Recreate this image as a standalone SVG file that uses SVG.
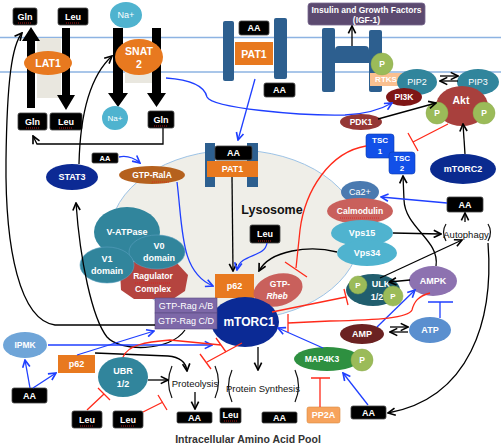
<svg xmlns="http://www.w3.org/2000/svg" width="501" height="447" viewBox="0 0 501 447">
<defs>
<style>
text{font-family:"Liberation Sans",Arial,sans-serif;text-anchor:middle;dominant-baseline:central}
.w{fill:#fff;font-weight:bold;font-size:9px}
.w10{fill:#fff;font-weight:bold;font-size:10.5px}
.k{fill:#111;font-size:9.5px}
.box{fill:#000;stroke:#444;stroke-width:0.8}
.mem{stroke:#8db3e2;stroke-width:1.6;fill:none}
.bar{fill:#2d5f8f}
.or{fill:#e8791f}
.tl{fill:#31859c}
.lb{fill:#4fb3cf}
.pg{fill:#9bbb59;stroke:#8aab4a;stroke-width:0.5}
.cb{stroke:#000;stroke-width:1.3;fill:none}
.cu{stroke:#1f3fff;stroke-width:1.3;fill:none}
.cr{stroke:#ff2a1a;stroke-width:1.3;fill:none}
.sq{stroke:#e02020;stroke-width:0.8;stroke-dasharray:1 1;fill:none}
.brk{fill:none;stroke:#111;stroke-width:1.2}
</style>
<marker id="ab" viewBox="0 0 10 10" refX="9" refY="5" markerWidth="7" markerHeight="7" orient="auto"><path d="M1,1 L9,5 L1,9" fill="none" stroke="#000" stroke-width="1.8"/></marker>
<marker id="au" viewBox="0 0 10 10" refX="9" refY="5" markerWidth="7" markerHeight="7" orient="auto"><path d="M1,1 L9,5 L1,9" fill="none" stroke="#1f3fff" stroke-width="1.8"/></marker>
</defs>
<rect width="501" height="447" fill="#fff"/>
<!-- membrane -->
<line class="mem" x1="0" y1="37.5" x2="501" y2="37.5"/>
<line class="mem" x1="0" y1="72" x2="501" y2="72"/>

<!-- lysosome -->
<g id="lysosome">
<ellipse cx="235" cy="235" rx="125" ry="85" fill="#efeee8" stroke="#9dc3e6" stroke-width="1"/>
<text x="272" y="210" style="font-size:12.5px;font-weight:bold;fill:#111">Lysosome</text>
</g>

<g id="lat1">
<rect x="37" y="38" width="24" height="60" fill="#e9e7df"/>
<polygon points="27,108 35,108 35,41 40,41 31,27 22,41 27,41" fill="#000"/>
<polygon points="62,28 70,28 70,95 75,95 66,110 57,95 62,95" fill="#000"/>
<ellipse cx="48" cy="63" rx="24" ry="12" class="or"/>
<text x="48" y="63" class="w10">LAT1</text>
</g>
<g id="gln-top"><rect x="13" y="8" width="24" height="17" rx="2" class="box"/><text x="25" y="16.5" class="w">Gln</text><path class="sq" d="M18,23 H32"/></g>
<g id="leu-top"><rect x="58" y="8" width="30" height="17" rx="2" class="box"/><text x="73" y="16.5" class="w">Leu</text><path class="sq" d="M66,23 H80"/></g>
<g id="gln-bl"><rect x="18" y="113" width="29" height="17" rx="2" class="box"/><text x="32.5" y="121.5" class="w">Gln</text><path class="sq" d="M26,128 H39"/></g>
<g id="leu-bl"><rect x="50" y="113" width="32" height="17" rx="2" class="box"/><text x="66" y="121.5" class="w">Leu</text><path class="sq" d="M59,128 H73"/></g>

<g id="snat2">
<rect x="125" y="47" width="27" height="36" fill="#e9e7df"/>
<polygon points="113,28 123,28 123,93 128,93 118,107 108,93 113,93" fill="#000"/>
<polygon points="152,28 161,28 161,93 166,93 156.5,107 147,93 152,93" fill="#000"/>
<ellipse cx="139" cy="57" rx="24" ry="18" class="or"/>
<text x="139" y="51" class="w10">SNAT</text><text x="139" y="64" class="w10">2</text>
</g>
<g id="na-top"><ellipse cx="126" cy="15" rx="16" ry="13" class="lb"/><text x="126" y="15" class="w" style="font-weight:normal">Na+</text></g>
<g id="na-bot"><ellipse cx="115" cy="118" rx="13" ry="12" class="lb"/><text x="115" y="118" class="w" style="font-weight:normal;font-size:8px">Na+</text></g>
<g id="gln-br"><rect x="148" y="111" width="26" height="17" rx="2" class="box"/><text x="161" y="119.5" class="w">Gln</text><path class="sq" d="M154,126 H168"/></g>

<g id="pat1-mem">
<rect x="223" y="21" width="11" height="60" rx="2" class="bar"/>
<rect x="274" y="18" width="13" height="61" rx="2" class="bar"/>
<rect x="239" y="21" width="30" height="14" rx="2" class="box"/><text x="254" y="28" class="w">AA</text>
<rect x="235" y="42" width="38" height="23" class="or"/><text x="254" y="53.5" class="w10">PAT1</text>
</g>
<g id="aa-pat1-out"><rect x="264" y="83" width="31" height="14" rx="2" class="box"/><text x="279.5" y="90" class="w">AA</text></g>

<g id="receptor">
<rect x="322" y="28" width="13" height="64" rx="2" class="bar"/>
<rect x="369" y="30" width="13" height="62" rx="2" class="bar"/>
<path d="M335,63 V50 Q335,46 339,46 H365 Q369,46 369,50 V63 Z" class="bar"/>
</g>
<g id="insulin">
<rect x="308" y="3" width="117" height="22" rx="3" fill="#5c4a70" stroke="#7a6a90" stroke-width="0.8"/>
<text x="366.5" y="10" class="w" style="font-size:8.5px">Insulin and Growth Factors</text>
<text x="366.5" y="20" class="w" style="font-size:8.5px">(IGF-1)</text>
</g>
<g id="rtks">
<rect x="370" y="73" width="35" height="13" fill="#fac090"/><text x="386" y="79.5" class="w" style="font-size:8px">RTKS</text>
<circle cx="382" cy="64" r="11" class="pg"/><text x="382" y="64" class="w" style="font-size:8.5px">P</text>
</g>
<g id="pip2"><ellipse cx="417" cy="82" rx="20" ry="13" class="tl"/><text x="417" y="82" class="w" style="font-weight:normal">PIP2</text></g>
<g id="pip3"><ellipse cx="478" cy="82" rx="21" ry="13" class="tl"/><text x="478" y="82" class="w" style="font-weight:normal">PIP3</text></g>
<g id="pi3k"><ellipse cx="404" cy="97" rx="18" ry="9" fill="#7f1616"/><text x="404" y="97" class="w" style="font-size:8.5px">PI3K</text></g>
<g id="pdk1"><ellipse cx="361" cy="122" rx="21" ry="8" fill="#953735"/><text x="361" y="122" class="w" style="font-size:8.5px">PDK1</text></g>
<g id="akt">
<ellipse cx="462" cy="106" rx="26" ry="20" fill="#a8403d"/><text x="461" y="100" class="w10">Akt</text><path class="sq" d="M453,108 H469"/>
<circle cx="437" cy="113" r="11" class="pg"/><text x="437" y="113" class="w" style="font-size:8.5px">P</text>
<circle cx="484" cy="113" r="11" class="pg"/><text x="484" y="113" class="w" style="font-size:8.5px">P</text>
</g>
<g id="mtorc2"><ellipse cx="463" cy="169" rx="33" ry="15" fill="#0a2a8f"/><text x="463" y="169" class="w">mTORC2</text></g>
<g id="tsc1"><rect x="366" y="134" width="28" height="24" rx="3" fill="#1250e8" stroke="#0b3ab0" stroke-width="0.6"/><text x="380" y="140.5" class="w" style="font-size:8px">TSC</text><text x="380" y="151" class="w" style="font-size:8px">1</text></g>
<g id="tsc2"><rect x="389" y="152" width="26" height="22" rx="3" fill="#1250e8" stroke="#0b3ab0" stroke-width="0.6"/><text x="402" y="158" class="w" style="font-size:8px">TSC</text><text x="402" y="168" class="w" style="font-size:8px">2</text></g>

<g id="pat1-lys">
<rect x="205" y="143" width="10" height="44" class="bar"/>
<rect x="247" y="143" width="11" height="44" class="bar"/>
<rect x="215" y="146" width="37" height="14" rx="2" class="box"/><text x="233.5" y="153" class="w">AA</text>
<rect x="207" y="161" width="51" height="16" class="or"/><text x="232.5" y="169" class="w">PAT1</text>
</g>
<g id="leu-lys"><rect x="250" y="225" width="30" height="18" rx="2" class="box"/><text x="265" y="234" class="w">Leu</text><path class="sq" d="M258,241 H272"/></g>
<g id="gtp-rala"><ellipse cx="152" cy="175" rx="33" ry="9" fill="#b5611e"/><text x="152" y="175" class="w" style="font-size:8.5px">GTP-RalA</text><path class="sq" d="M152,182 H170"/></g>
<g id="aa-stat"><rect x="92" y="153" width="26" height="10" rx="1.5" class="box"/><text x="105" y="158" class="w" style="font-size:7.5px">AA</text></g>
<g id="stat3"><ellipse cx="72" cy="177" rx="26" ry="13" fill="#0c2a94"/><text x="72" y="177" class="w">STAT3</text></g>

<g id="ca2"><ellipse cx="360" cy="192" rx="19" ry="11" fill="#4a7ab0"/><text x="360" y="192" class="w" style="font-weight:normal">Ca2+</text></g>
<g id="calmodulin"><ellipse cx="360" cy="211" rx="33" ry="13" fill="#c9605c"/><text x="360" y="211" class="w" style="font-size:8.5px">Calmodulin</text><path class="sq" d="M340,218 H380"/></g>
<g id="vps15"><ellipse cx="362" cy="233" rx="31" ry="13" class="lb"/><text x="362" y="233" class="w">Vps15</text></g>
<g id="vps34"><ellipse cx="367" cy="253" rx="30" ry="13" class="lb"/><text x="367" y="253" class="w">Vps34</text></g>
<g id="aa-right"><rect x="447" y="197" width="36" height="15" rx="2" class="box"/><text x="465" y="204.5" class="w">AA</text></g>
<g id="autophagy">
<text x="466" y="234" class="k">Autophagy</text>
<path class="brk" d="M446,224 Q441,232 446,241"/><path class="brk" d="M488,224 Q493,232 488,241"/>
</g>

<g id="ragulator"><polygon points="132,262 176,262 188,275 185,291 173,299 134,299 121,290 120,272" fill="#b5443f"/><text x="153" y="276" class="w" style="font-size:8.5px">Ragulator</text><path class="sq" d="M135,283 H170"/><text x="153" y="289" class="w" style="font-size:8.5px">Complex</text></g>
<g id="v-atpase"><ellipse cx="127" cy="232" rx="33" ry="25" class="tl"/><text x="127" y="232" class="w">V-ATPase</text></g>
<g id="v0"><ellipse cx="157" cy="252" rx="28" ry="17" class="tl" stroke="#5aa0c0" stroke-width="0.6"/><text x="159" y="246" class="w">V0</text><text x="159" y="258" class="w">domain</text></g>
<g id="v1"><ellipse cx="107" cy="265" rx="27" ry="18" class="tl" stroke="#5aa0c0" stroke-width="0.6"/><text x="107" y="259" class="w">V1</text><text x="107" y="271" class="w">domain</text></g>

<g id="p62-center"><rect x="215" y="274" width="39" height="24" class="or"/><text x="234.5" y="286" class="w">p62</text></g>
<g id="gtp-rheb"><ellipse cx="278" cy="290" rx="25" ry="16" fill="#c9605c" transform="rotate(-15 278 290)"/><text x="280" y="284" class="w" style="font-size:8.5px">GTP-</text><text x="277" y="296" class="w" style="font-size:8.5px;font-style:italic">Rheb</text></g>
<g id="mtorc1"><ellipse cx="245" cy="322" rx="34" ry="25" fill="#0b2a95"/><text x="249" y="322" class="w10" style="font-size:12px">mTORC1</text></g>
<g id="rag-ab"><rect x="155" y="298" width="62" height="15" fill="#7d68a8" stroke="#5a4a80" stroke-width="0.6"/><text x="186" y="305.5" class="w" style="font-weight:normal">GTP-Rag A/B</text></g>
<g id="rag-cd"><rect x="155" y="313" width="62" height="16" fill="#7d68a8" stroke="#5a4a80" stroke-width="0.6"/><text x="186" y="321" class="w" style="font-weight:normal">GTP-Rag C/D</text></g>

<g id="ulk">
<ellipse cx="373" cy="290" rx="27" ry="16" fill="#215e6e"/><text x="381" y="284" class="w">ULK</text><text x="377" y="297" class="w">1/2</text>
<circle cx="358" cy="285" r="9" class="pg"/><text x="358" y="285" class="w" style="font-size:8px">P</text>
<circle cx="393" cy="296" r="10" class="pg"/><text x="393" y="296" class="w" style="font-size:8px">P</text>
</g>
<g id="ampk"><ellipse cx="433" cy="281" rx="24" ry="15" fill="#8d72b0"/><text x="433" y="281" class="w">AMPK</text></g>
<g id="amp"><ellipse cx="362" cy="334" rx="22" ry="10" fill="#6b2222"/><text x="362" y="334" class="w">AMP</text></g>
<g id="atp"><ellipse cx="430" cy="330" rx="21" ry="13" fill="#5a8fcf"/><text x="430" y="330" class="w">ATP</text></g>
<g id="map4k3"><ellipse cx="327" cy="359" rx="33" ry="12" fill="#2e9040"/><text x="322" y="359" class="w" style="font-size:8.5px">MAP4K3</text>
<circle cx="362" cy="360" r="11" class="pg"/><text x="362" y="360" class="w" style="font-size:8.5px">P</text></g>
<g id="pp2a"><rect x="307" y="407" width="33" height="16" rx="2" fill="#f7a35c" stroke="#d98a40" stroke-width="0.6"/><text x="323.5" y="415" class="w">PP2A</text></g>
<g id="aa-br"><rect x="351" y="406" width="35" height="13" rx="2" class="box"/><text x="368.5" y="412.5" class="w">AA</text></g>

<g id="ipmk"><ellipse cx="25" cy="345" rx="22" ry="13" fill="#6fa5d8"/><text x="25" y="345" class="w" style="font-size:8.5px">IPMK</text></g>
<g id="p62-left"><rect x="58" y="355" width="37" height="18" class="or"/><text x="76.5" y="364" class="w">p62</text></g>
<g id="aa-bl"><rect x="12" y="388" width="35" height="15" rx="2" class="box"/><text x="29.5" y="395.5" class="w">AA</text></g>
<g id="ubr"><ellipse cx="123" cy="377" rx="25" ry="20" class="tl"/><text x="123" y="371" class="w">UBR</text><text x="123" y="384" class="w">1/2</text></g>
<g id="leu-b1"><rect x="72" y="411" width="30" height="17" rx="2" class="box"/><text x="87" y="419.5" class="w">Leu</text><path class="sq" d="M80,426 H94"/></g>
<g id="leu-b2"><rect x="113" y="411" width="30" height="17" rx="2" class="box"/><text x="128" y="419.5" class="w">Leu</text><path class="sq" d="M121,426 H135"/></g>
<g id="proteolysis"><text x="195" y="383" class="k">Proteolysis</text><path class="brk" d="M172,366 Q165,382 172,398"/><path class="brk" d="M215,366 Q222,382 215,398"/></g>
<g id="protein-synthesis"><text x="263" y="388" class="k">Protein Synthesis</text><path class="brk" d="M232,370 Q225,386 232,402"/><path class="brk" d="M295,370 Q302,386 295,402"/></g>
<g id="aa-b1"><rect x="177" y="412" width="35" height="11" rx="1.5" class="box"/><text x="194.5" y="417.5" class="w">AA</text></g>
<g id="leu-b3"><rect x="220" y="408" width="21" height="15" rx="1.5" class="box"/><text x="230.5" y="415" class="w">Leu</text><path class="sq" d="M224,421 H237"/></g>
<g id="aa-b2"><rect x="262" y="412" width="35" height="11" rx="1.5" class="box"/><text x="279.5" y="417.5" class="w">AA</text></g>
<text x="248" y="439" style="font-size:10.5px;font-weight:bold;fill:#333">Intracellular Amino Acid Pool</text>

<g id="connectors">
<!-- black -->
<path class="cb" marker-end="url(#ab)" d="M163,128 V144 H37 L33,136"/>
<path class="cb" marker-end="url(#ab)" d="M155,325 H55 C20,320 5,250 6,160 C7,80 12,45 22,33"/>
<path class="cb" marker-end="url(#ab)" d="M79,164 C80,120 88,78 112,56"/>
<path class="cb" marker-end="url(#ab)" d="M185,330 C170,352 120,352 107,337 C92,318 80,260 76,203"/>
<path class="cb" marker-end="url(#ab)" d="M232,177 L233,271"/>
<path class="cb" marker-end="url(#ab)" d="M337,252 C310,245 270,250 259,271"/>
<path class="cb" marker-end="url(#ab)" d="M393,233 L441,234"/>
<path class="cb" marker-end="url(#ab)" d="M465,222 L465,213"/>
<path class="cb" marker-end="url(#ab)" d="M380,278 L462,240"/>
<path class="cb" marker-end="url(#ab)" d="M410,280 L389,282"/>
<path class="cb" marker-end="url(#ab)" d="M436,266 C440,240 405,228 404,200 L403,176"/>
<path class="cb" marker-end="url(#ab)" d="M488,243 C494,320 470,398 388,413"/>
<path class="cb" marker-end="url(#ab)" d="M378,119 L436,103"/>
<path class="cb" marker-end="url(#ab)" d="M465,154 L463,124"/>
<path class="cb" marker-end="url(#ab)" d="M352,46 L352,26"/>
<path class="cb" marker-end="url(#ab)" d="M258,347 L258,370"/>
<path class="cb" marker-end="url(#ab)" d="M195,392 L195,409"/>
<path class="cb" marker-end="url(#ab)" d="M148,380 L168,380"/>
<path class="cb" marker-end="url(#ab)" d="M95,353 L168,356 C180,357 186,362 187,371"/>
<path class="cb" marker-end="url(#ab)" d="M440,76 H458"/>
<path class="cb" marker-end="url(#ab)" d="M458,81 H440"/>
<path class="cb" marker-end="url(#ab)" d="M390,327 H408"/>
<path class="cb" marker-end="url(#ab)" d="M408,332 H390"/>
<!-- blue -->
<path class="cu" marker-end="url(#au)" d="M166,78 C195,80 205,88 207,97 C212,108 300,116 345,115 C365,114 380,110 392,103"/>
<path class="cu" marker-end="url(#au)" d="M255,79 L238,140"/>
<path class="cu" marker-end="url(#au)" d="M119,157 C128,155 134,158 140,163"/>
<path class="cu" marker-end="url(#au)" d="M177,182 C183,230 180,272 213,286"/>
<path class="cu" marker-end="url(#au)" d="M267,243 C265,258 240,253 237,270"/>
<path class="cu" marker-end="url(#au)" d="M447,203 L381,197"/>
<path class="cu" marker-end="url(#au)" d="M377,327 L415,290"/>
<path class="cu" d="M440,318 V302 M428,302 H453"/>
<path class="cu" marker-end="url(#au)" d="M368,405 L343,373"/>
<path class="cu" marker-end="url(#au)" d="M323,348 L278,328"/>
<path class="cu" marker-end="url(#au)" d="M30,388 L25,360"/>
<path class="cu" marker-end="url(#au)" d="M33,388 L56,373"/>
<path class="cu" marker-end="url(#au)" d="M77,355 L154,331"/>
<path class="cu" marker-end="url(#au)" d="M48,345 H212"/>
<!-- red -->
<path class="cr" d="M448,124 L413,142 M408,133 L418,151"/>
<path class="cr" d="M366,146 C330,152 305,190 300,230 L296,268 M285,262 L307,277"/>
<path class="cr" d="M272,312 L346,297 M344,289 L348,305"/>
<path class="cr" d="M430,293 C418,296 414,302 412,310 C408,318 380,320 330,321 L288,323 M288,314 V332"/>
<path class="cr" d="M320,407 V378 M311,378 H330"/>
<path class="cr" d="M87,410 L104,394 M98,388 L110,400"/>
<path class="cr" d="M143,412 L163,402 M158,395 L167,410"/>
<path class="cr" d="M123,357 C128,345 145,342 170,340 L221,345 M216,338 L226,352"/>
<path class="cr" d="M242,343 L207,362 M200,354 L211,369"/>
</g>
</svg>
